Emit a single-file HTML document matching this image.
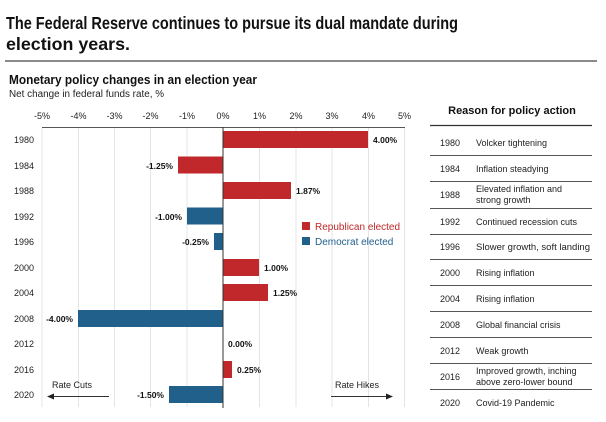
<!DOCTYPE html>
<html><head><meta charset="utf-8"><style>
html,body{margin:0;padding:0;background:#fff;}
svg{display:block;font-family:"Liberation Sans",Arial,sans-serif;}
</style></head><body>
<svg width="606" height="422" viewBox="0 0 606 422" xmlns="http://www.w3.org/2000/svg">
<text x="6" y="29" font-size="17.5" font-weight="bold" fill="#111" textLength="452" lengthAdjust="spacingAndGlyphs">The Federal Reserve continues to pursue its dual mandate during</text>
<text x="6" y="50" font-size="17.5" font-weight="bold" fill="#111" textLength="124" lengthAdjust="spacingAndGlyphs">election years.</text>
<rect x="5" y="60" width="592" height="2" fill="#8a8a8a"/>
<text x="9" y="84" font-size="12.5" font-weight="bold" fill="#111" textLength="248" lengthAdjust="spacingAndGlyphs">Monetary policy changes in an election year</text>
<text x="9" y="97" font-size="10" fill="#222" textLength="155" lengthAdjust="spacingAndGlyphs">Net change in federal funds rate, %</text>
<g stroke="#e4e4e4" stroke-width="1">
<line x1="42" y1="128" x2="42" y2="407"/><line x1="78.5" y1="128" x2="78.5" y2="407"/><line x1="114.5" y1="128" x2="114.5" y2="407"/><line x1="150.5" y1="128" x2="150.5" y2="407"/><line x1="187" y1="128" x2="187" y2="407"/><line x1="259.5" y1="128" x2="259.5" y2="407"/><line x1="296" y1="128" x2="296" y2="407"/><line x1="332" y1="128" x2="332" y2="407"/><line x1="368.5" y1="128" x2="368.5" y2="407"/><line x1="404.5" y1="128" x2="404.5" y2="407"/>
</g>
<line x1="42" y1="127.5" x2="405" y2="127.5" stroke="#555" stroke-width="1"/>
<g font-size="9" fill="#222" text-anchor="middle">
<text x="42" y="119">-5%</text><text x="78.5" y="119">-4%</text><text x="114.5" y="119">-3%</text><text x="150.5" y="119">-2%</text><text x="187" y="119">-1%</text><text x="223" y="119">0%</text><text x="259.5" y="119">1%</text><text x="296" y="119">2%</text><text x="332" y="119">3%</text><text x="368.5" y="119">4%</text><text x="404.5" y="119">5%</text>
</g>
<g font-size="9" fill="#222">
<text x="14" y="143">1980</text><text x="14" y="169">1984</text><text x="14" y="194">1988</text><text x="14" y="220">1992</text><text x="14" y="245">1996</text><text x="14" y="271">2000</text><text x="14" y="296">2004</text><text x="14" y="322">2008</text><text x="14" y="347">2012</text><text x="14" y="373">2016</text><text x="14" y="398">2020</text>
</g>
<g fill="#c0282b">
<rect x="223" y="131" width="145" height="17"/>
<rect x="178" y="156.5" width="45" height="17"/>
<rect x="223" y="182" width="68" height="17"/>
<rect x="223" y="259" width="36" height="17"/>
<rect x="223" y="284" width="45" height="17"/>
<rect x="223" y="361" width="9" height="17"/>
</g>
<g fill="#22608c">
<rect x="187" y="207.5" width="36" height="17"/>
<rect x="214" y="233" width="9" height="17"/>
<rect x="78" y="310" width="145" height="17"/>
<rect x="169" y="386" width="54" height="17"/>
</g>
<line x1="223" y1="127" x2="223" y2="408" stroke="#333" stroke-width="1"/>
<g font-size="8.5" font-weight="bold" fill="#111">
<text x="373" y="143">4.00%</text>
<text x="173" y="169" text-anchor="end">-1.25%</text>
<text x="296" y="194">1.87%</text>
<text x="182" y="220" text-anchor="end">-1.00%</text>
<text x="209" y="245" text-anchor="end">-0.25%</text>
<text x="264" y="271">1.00%</text>
<text x="273" y="296">1.25%</text>
<text x="73" y="322" text-anchor="end">-4.00%</text>
<text x="228" y="347">0.00%</text>
<text x="237" y="373">0.25%</text>
<text x="164" y="398" text-anchor="end">-1.50%</text>
</g>
<rect x="302" y="222" width="8" height="8" fill="#c0282b"/>
<text x="315" y="230" font-size="10" fill="#c0282b">Republican elected</text>
<rect x="302" y="237" width="8" height="8" fill="#22608c"/>
<text x="315" y="245" font-size="10" fill="#22608c">Democrat elected</text>
<text x="52" y="388" font-size="9" fill="#222">Rate Cuts</text>
<line x1="52" y1="396.5" x2="109" y2="396.5" stroke="#333"/>
<polygon points="47,396.5 54,393.5 54,399.5" fill="#222"/>
<text x="335" y="388" font-size="9" fill="#222">Rate Hikes</text>
<line x1="331" y1="396.5" x2="388" y2="396.5" stroke="#333"/>
<polygon points="393,396.5 386,393.5 386,399.5" fill="#222"/>
<text x="512" y="114" font-size="11" font-weight="bold" fill="#111" text-anchor="middle">Reason for policy action</text>
<line x1="430" y1="125.5" x2="592" y2="125.5" stroke="#333" stroke-width="1.2"/>
<g stroke="#555" stroke-width="1">
<line x1="430" y1="155.5" x2="592" y2="155.5"/><line x1="430" y1="181.5" x2="592" y2="181.5"/><line x1="430" y1="208.5" x2="592" y2="208.5"/><line x1="430" y1="234.5" x2="592" y2="234.5"/><line x1="430" y1="259.5" x2="592" y2="259.5"/><line x1="430" y1="285.5" x2="592" y2="285.5"/><line x1="430" y1="311.5" x2="592" y2="311.5"/><line x1="430" y1="337.5" x2="592" y2="337.5"/><line x1="430" y1="363.5" x2="592" y2="363.5"/><line x1="430" y1="389.5" x2="592" y2="389.5"/>
</g>
<g font-size="9" fill="#222">
<text x="440" y="146">1980</text><text x="476" y="146">Volcker tightening</text>
<text x="440" y="172">1984</text><text x="476" y="172">Inflation steadying</text>
<text x="440" y="198">1988</text><text x="476" y="192">Elevated inflation and</text><text x="476" y="203">strong growth</text>
<text x="440" y="225">1992</text><text x="476" y="225">Continued recession cuts</text>
<text x="440" y="250">1996</text><text x="476" y="250" textLength="114" lengthAdjust="spacingAndGlyphs">Slower growth, soft landing</text>
<text x="440" y="276">2000</text><text x="476" y="276">Rising inflation</text>
<text x="440" y="302">2004</text><text x="476" y="302">Rising inflation</text>
<text x="440" y="328">2008</text><text x="476" y="328">Global financial crisis</text>
<text x="440" y="354">2012</text><text x="476" y="354">Weak growth</text>
<text x="440" y="380">2016</text><text x="476" y="374">Improved growth, inching</text><text x="476" y="385">above zero-lower bound</text>
<text x="440" y="406">2020</text><text x="476" y="406">Covid-19 Pandemic</text>
</g>
</svg>
</body></html>
